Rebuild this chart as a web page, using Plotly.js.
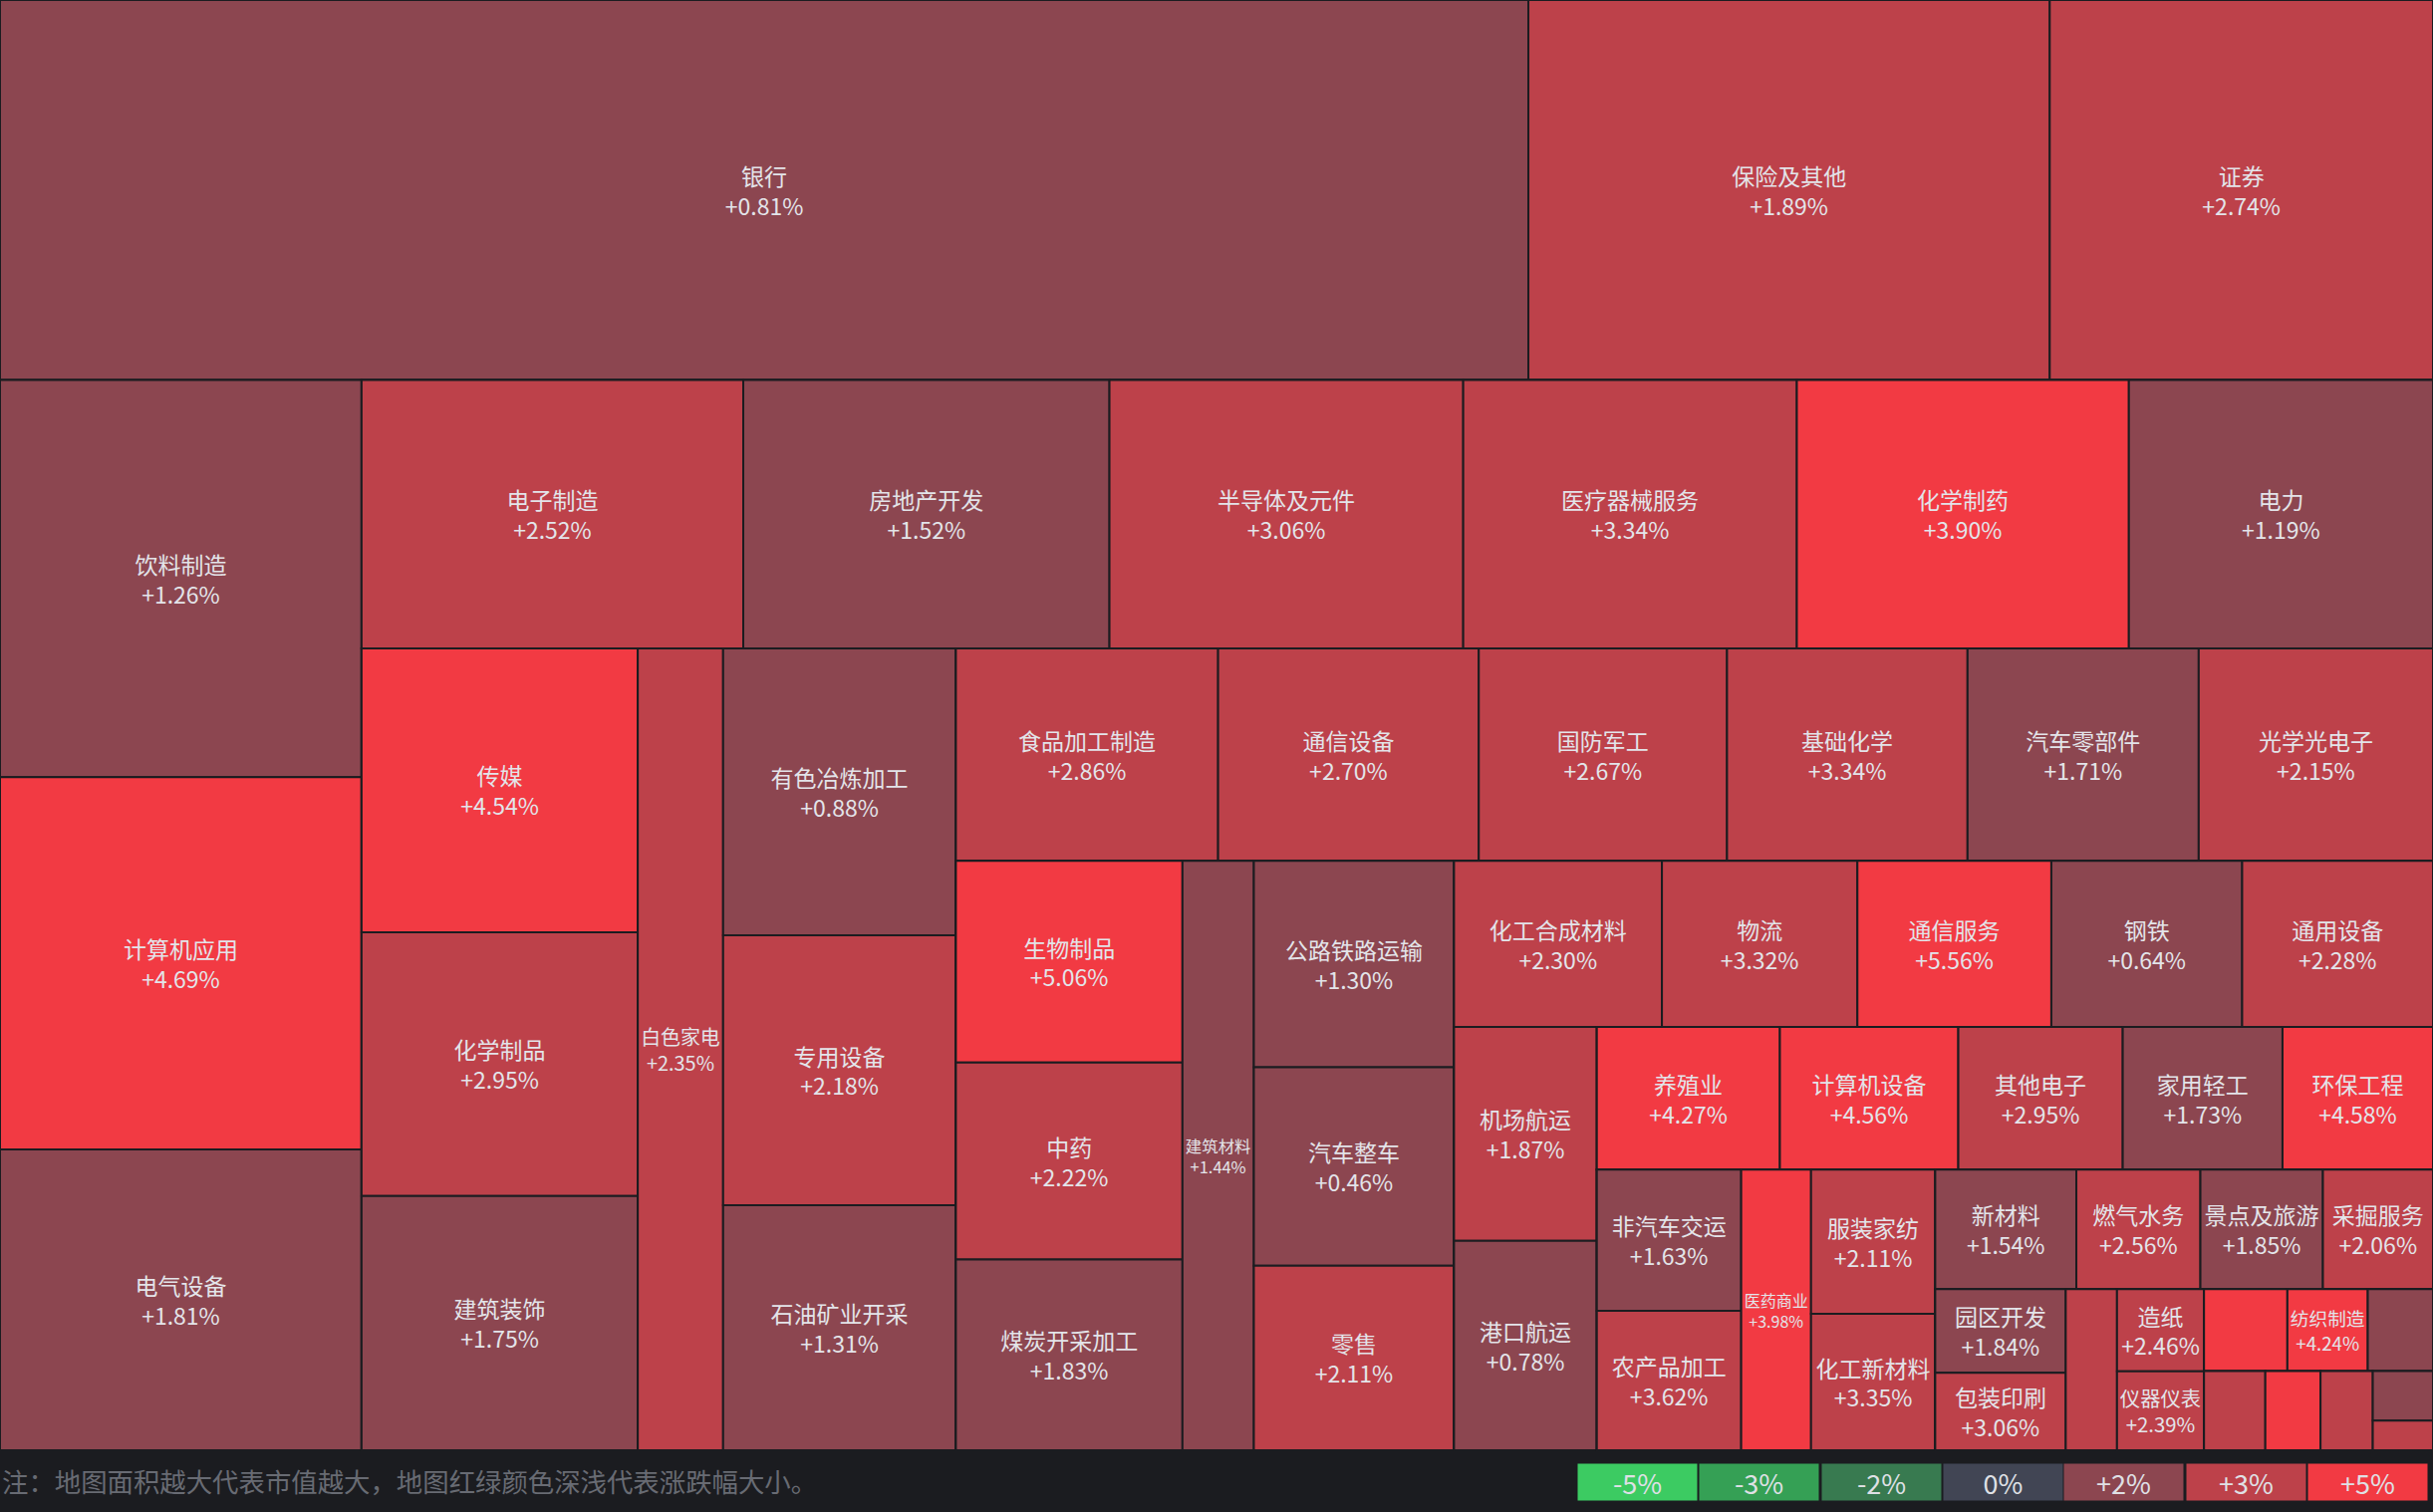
<!DOCTYPE html>
<html>
<head>
<meta charset="utf-8">
<script src="https://cdn.plot.ly/plotly-3.0.1.min.js"></script>
<style>
html,body{margin:0;padding:0;background:#1b1c20;}
#chart{width:2442px;height:1518px;}
</style>
</head>
<body>
<div id="chart"></div>
<script>
// Industry sectors (name, daily change %, market-cap weight, tiling block)
const sectors = [
  '银行','保险及其他','证券',
  '饮料制造','计算机应用','电气设备',
  '电子制造','房地产开发','半导体及元件','医疗器械服务','化学制药','电力',
  '传媒','化学制品','建筑装饰',
  '白色家电',
  '有色冶炼加工','专用设备','石油矿业开采',
  '食品加工制造','通信设备','国防军工','基础化学','汽车零部件','光学光电子',
  '生物制品','中药','煤炭开采加工',
  '建筑材料',
  '公路铁路运输','汽车整车','零售',
  '化工合成材料','物流','通信服务','钢铁','通用设备',
  '机场航运','港口航运',
  '养殖业','计算机设备','其他电子','家用轻工','环保工程',
  '非汽车交运','农产品加工',
  '医药商业',
  '服装家纺','化工新材料',
  '新材料','燃气水务','景点及旅游','采掘服务',
  '园区开发','包装印刷',
  '',
  '造纸','仪器仪表',
  '','纺织制造','',
  '',
  '',
  '',
  '',''
];
const changes = [
  0.81, 1.89, 2.74,
  1.26, 4.69, 1.81,
  2.52, 1.52, 3.06, 3.34, 3.90, 1.19,
  4.54, 2.95, 1.75,
  2.35,
  0.88, 2.18, 1.31,
  2.86, 2.70, 2.67, 3.34, 1.71, 2.15,
  5.06, 2.22, 1.83,
  1.44,
  1.30, 0.46, 2.11,
  2.30, 3.32, 5.56, 0.64, 2.28,
  1.87, 0.78,
  4.27, 4.56, 2.95, 1.73, 4.58,
  1.63, 3.62,
  3.98,
  2.11, 3.35,
  1.54, 2.56, 1.85, 2.06,
  1.84, 3.06,
  2.5,
  2.46, 2.39,
  4.5, 4.24, 1.5,
  2.5,
  4.5,
  2.5,
  1.5, 2.5
];
const caps = [
  241325, 82320, 60515,
  59648, 55920, 45202,
  42558, 40828, 39444, 37195, 37022, 33908,
  32574, 30260, 29192,
  28435,
  27750, 26100, 23700,
  23153, 23016, 21920, 21235, 20413, 20687,
  18980, 18542, 17958,
  17480,
  17157, 16512, 15351,
  14338, 13482, 13375, 13161, 13161,
  12696, 12420,
  10856, 10580, 9752, 9476, 8924,
  8463, 8370,
  8145,
  7440, 7040,
  7007, 6160, 6083, 5467,
  4536, 4200,
  3432,
  2968, 2856,
  2841, 2740, 2223,
  2015,
  1814,
  1717,
  1236, 743
];
const blocks = [
  'A1','A1','A1',
  'B1','B1','B1',
  'C1','C1','C1','C1','C1','C1',
  'D1','D1','D1',
  'D2',
  'D3','D3','D3',
  'E1','E1','E1','E1','E1','E1',
  'F1','F1','F1',
  'F2',
  'F3','F3','F3',
  'G1','G1','G1','G1','G1',
  'H1','H1',
  'I1','I1','I1','I1','I1',
  'J1','J1',
  'J2',
  'J3','J3',
  'K1','K1','K1','K1',
  'L1','L1',
  'L2',
  'L3','L3',
  'M1','M1','M1',
  'N1',
  'N2',
  'N3',
  'N4','N4'
];
// Tiling blocks (structure only, no sizes)
const groupIds = ['A1','A2','B1','B2','C1','C2','D1','D2','D3','D4','E1','E2','F1','F2','F3','F4',
  'G1','G2','H1','H2','I1','I2','J1','J2','J3','J4','K1','K2','L1','L2','L3','L4','M1','M2','N1','N2','N3','N4'];
const groupParents = ['','','A2','A2','B2','B2','C2','C2','C2','C2','D4','D4','E2','E2','E2','E2',
  'F4','F4','G2','G2','H2','H2','I2','I2','I2','I2','J4','J4','K2','K2','K2','K2','L4','L4','M2','M2','M2','M2'];

const legendLabels = ['-5%','-3%','-2%','0%','+2%','+3%','+5%'];
const noteText = '注：地图面积越大代表市值越大，地图红绿颜色深浅代表涨跌幅大小。';

const BG = '#1b1c20';
const legendColors = ['#3ccb62','#35a055','#387a50','#414554','#8c4650','#bd414a','#f23a43'];
function colorFor(v){
  if (v >= 3.8) return legendColors[6];
  if (v >= 1.86) return legendColors[5];
  if (v > 0) return legendColors[4];
  if (v === 0) return legendColors[3];
  if (v > -2.5) return legendColors[2];
  if (v > -4) return legendColors[1];
  return legendColors[0];
}
function fmt(v){ return (v > 0 ? '+' : '') + v.toFixed(2) + '%'; }

const ids = groupIds.concat(sectors.map((s,i)=>'s'+i));
const labels = groupIds.concat(sectors.map(s => s || ' '));
const parents = groupParents.concat(blocks);
const values = groupIds.map(()=>0).concat(caps);
const colors = groupIds.map(()=>BG).concat(changes.map(colorFor));
const texts = groupIds.map(()=> '').concat(sectors.map((s,i)=> s ? s + '<br>' + fmt(changes[i]) : ''));

const trace = {
  type: 'treemap',
  ids: ids, labels: labels, parents: parents, values: values,
  branchvalues: 'remainder',
  sort: false,
  text: texts,
  textinfo: 'text',
  textposition: 'middle center',
  textfont: {family: 'Noto Sans CJK SC, sans-serif', size: 23, color: '#e3e4e9'},
  marker: {colors: colors, line: {color: BG, width: 2}, pad: {t:0, l:0, r:0, b:0}},
  tiling: {packing: 'dice-slice', pad: 0},
  pathbar: {visible: false},
  leaf: {opacity: 1},
  root: {color: BG},
  hoverinfo: 'label+text',
  domain: {x:[0,1], y:[0,1]}
};

const W = 2442, H = 1518, MB = 62, PH = H - MB;
const annotations = [{
  text: noteText, xref: 'paper', yref: 'paper', x: 0, y: -30/PH,
  xanchor: 'left', yanchor: 'middle', showarrow: false,
  font: {family: 'Noto Sans CJK SC, sans-serif', size: 26.4, color: '#686b73'}
}];
const boxCenters = [1643.5, 1765.5, 1888, 2010, 2131.5, 2254, 2376];
legendLabels.forEach((t,i)=>{
  annotations.push({
    text: t, xref: 'paper', yref: 'paper', x: boxCenters[i]/W, y: -32/PH,
    xanchor: 'center', yanchor: 'middle', showarrow: false,
    width: 119, height: 36, bgcolor: legendColors[i], borderpad: 0,
    font: {family: 'Noto Sans CJK SC, sans-serif', size: 27, color: '#dfe0e5'}
  });
});

const layout = {
  width: W, height: H,
  margin: {l:0, r:0, t:0, b:MB, pad:0},
  paper_bgcolor: BG, plot_bgcolor: BG,
  annotations: annotations,
  showlegend: false
};
Plotly.newPlot('chart', [trace], layout, {displayModeBar: false, staticPlot: true});
</script>
</body>
</html>
